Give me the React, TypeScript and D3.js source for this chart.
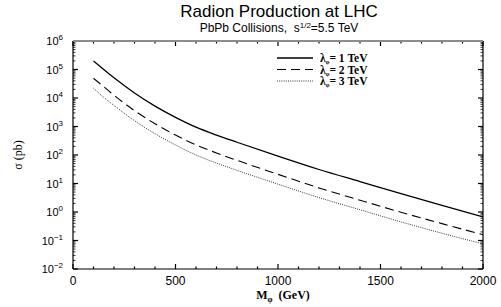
import React, { useRef, useEffect } from 'react';
import * as d3 from 'd3';

// radion mass in GeV
const masses = [100, 150, 200, 300, 400, 500, 600, 700, 800, 1000, 1200, 1400, 1600, 1800, 2000];
// cross section in pb, one list per lambda
const sigma1TeV = [2.0e5, 1.0e5, 5.1e4, 1.5e4, 5200, 2100, 950, 500, 280, 91, 31, 11.7, 4.4, 1.7, 0.68];
const sigma2TeV = [4.9e4, 2.5e4, 1.25e4, 3600, 1250, 500, 225, 118, 65, 21, 7.0, 2.6, 0.98, 0.39, 0.16];
const sigma3TeV = [2.2e4, 1.05e4, 5500, 1600, 560, 225, 100, 52, 29, 9.5, 3.2, 1.2, 0.45, 0.18, 0.076];

const seriesLabels = ['1 TeV', '2 TeV', '3 TeV'];
const xTickLabels = [0, 500, 1000, 1500, 2000];
const yExponents = [-2, -1, 0, 1, 2, 3, 4, 5, 6];

const W = 501;
const H = 307;

const drawChart = (svg: d3.Selection<SVGSVGElement, unknown, null, undefined>): void => {
    const left = 73, right = 483, top = 41, bottom = 269;
    const sans = '"Liberation Sans", Arial, sans-serif';
    const serif = '"Liberation Serif", "Times New Roman", serif';

    svg.selectAll('*').remove();

    const x = d3.scaleLinear().domain([0, 2000]).range([left, right]);
    const y = d3.scaleLog().domain([1e-2, 1e6]).range([bottom, top]);

    // curves
    const series = [
        { values: sigma1TeV, dash: null, width: 1.3, color: '#000' },
        { values: sigma2TeV, dash: '9,5', width: 1.1, color: '#000' },
        { values: sigma3TeV, dash: '1,1.2', width: 1, color: '#333' },
    ];
    const line = d3.line<[number, number]>()
        .x(d => x(d[0]))
        .y(d => y(d[1]))
        .curve(d3.curveMonotoneX);

    series.forEach(s => {
        svg.append('path')
            .datum(masses.map((m, i) => [m, s.values[i]] as [number, number]))
            .attr('d', line)
            .attr('fill', 'none')
            .attr('stroke', s.color)
            .attr('stroke-width', s.width)
            .attr('stroke-dasharray', s.dash);
    });

    // frame
    const ax = svg.append('g').attr('stroke', '#000').attr('stroke-width', 1.2);
    ax.append('line').attr('x1', left).attr('x2', left).attr('y1', top).attr('y2', bottom);
    ax.append('line').attr('x1', right).attr('x2', right).attr('y1', top).attr('y2', bottom);
    ax.append('line').attr('x1', left).attr('x2', right).attr('y1', bottom).attr('y2', bottom);
    svg.append('line').attr('x1', left).attr('x2', right).attr('y1', top).attr('y2', top)
        .attr('stroke', '#8c8c8c').attr('stroke-width', 2);

    // x ticks, top and bottom
    const xMinor = d3.range(0, 2001, 100);
    xMinor.forEach(v => {
        const len = v % 500 === 0 ? 5 : 2.5;
        ax.append('line').attr('x1', x(v)).attr('x2', x(v)).attr('y1', bottom).attr('y2', bottom - len);
        ax.append('line').attr('x1', x(v)).attr('x2', x(v)).attr('y1', top).attr('y2', top + len);
    });

    // y ticks, left and right
    yExponents.forEach(e => {
        const major = Math.pow(10, e);
        ax.append('line').attr('x1', left).attr('x2', left + 5).attr('y1', y(major)).attr('y2', y(major));
        ax.append('line').attr('x1', right).attr('x2', right - 5).attr('y1', y(major)).attr('y2', y(major));
        if (e < 6) {
            d3.range(2, 10).forEach(k => {
                const v = k * major;
                ax.append('line').attr('x1', left).attr('x2', left + 2.5).attr('y1', y(v)).attr('y2', y(v))
                    .attr('stroke-width', 0.8);
                ax.append('line').attr('x1', right).attr('x2', right - 2.5).attr('y1', y(v)).attr('y2', y(v))
                    .attr('stroke-width', 0.8);
            });
        }
    });

    // x tick labels
    svg.append('g').selectAll('text')
        .data(xTickLabels)
        .enter().append('text')
        .attr('x', d => x(d))
        .attr('y', bottom + 16)
        .attr('text-anchor', 'middle')
        .attr('font-family', sans)
        .attr('font-size', 12)
        .text(d => String(d));

    // y tick labels 10^n
    const yl = svg.append('g').selectAll('text')
        .data(yExponents)
        .enter().append('text')
        .attr('x', left - 10)
        .attr('y', d => y(Math.pow(10, d)) + 4)
        .attr('text-anchor', 'end')
        .attr('font-family', sans)
        .attr('font-size', 11);
    yl.append('tspan').text('10');
    yl.append('tspan').attr('dy', -5).attr('font-size', 8)
        .text(d => (d < 0 ? '\u2212' + Math.abs(d) : String(d)));

    // titles
    svg.append('text').attr('x', 279).attr('y', 17)
        .attr('text-anchor', 'middle').attr('font-family', sans).attr('font-size', 17)
        .text('Radion Production at LHC');
    const sub = svg.append('text').attr('x', 279).attr('y', 32)
        .attr('text-anchor', 'middle').attr('font-family', sans).attr('font-size', 12);
    sub.append('tspan').text('PbPb Collisions,\u00a0 s');
    sub.append('tspan').attr('dy', -4).attr('font-size', 8).text('1/2');
    sub.append('tspan').attr('dy', 4).text('=5.5 TeV');

    // axis titles
    const xt = svg.append('text').attr('x', 283).attr('y', 299)
        .attr('text-anchor', 'middle').attr('font-family', serif).attr('font-size', 12)
        .attr('font-weight', 'bold');
    xt.append('tspan').text('M');
    xt.append('tspan').attr('dy', 3).attr('font-size', 8).text('\u03c6');
    xt.append('tspan').attr('dy', -3).text('\u00a0 (GeV)');

    svg.append('text')
        .attr('transform', `translate(22,${(top + bottom) / 2}) rotate(-90)`)
        .attr('text-anchor', 'middle').attr('font-family', serif).attr('font-size', 12)
        .text('\u03c3 (pb)');

    // legend
    const lg = svg.append('g');
    series.forEach((s, i) => {
        const ly = 58 + i * 11.5;
        lg.append('line').attr('x1', 277).attr('x2', 313).attr('y1', ly).attr('y2', ly)
            .attr('stroke', s.color).attr('stroke-width', s.width).attr('stroke-dasharray', s.dash);
        const t = lg.append('text').attr('x', 320).attr('y', ly + 4)
            .attr('font-family', serif).attr('font-size', 11.5).attr('font-weight', 'bold');
        t.append('tspan').text('\u03bb');
        t.append('tspan').attr('dy', 2).attr('font-size', 6).text('\u03c6');
        t.append('tspan').attr('dy', -2).text('= ' + seriesLabels[i]);
    });
};

const App: React.FC = () => {
    const ref = useRef<SVGSVGElement>(null);

    useEffect(() => {
        if (ref.current) {
            drawChart(d3.select(ref.current));
        }
    }, []);

    return (
        <svg
            ref={ref}
            width={W}
            height={H}
            style={{ position: 'absolute', left: 0, top: 0, background: '#fff' }}
        />
    );
};

export default App;
